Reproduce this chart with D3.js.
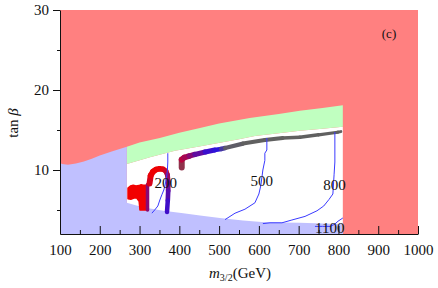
<!DOCTYPE html>
<html><head><meta charset="utf-8">
<script src="https://cdn.jsdelivr.net/npm/d3@7"></script>
<style>body{margin:0;background:#fff}svg{display:block}text{font-family:"Liberation Serif","DejaVu Serif",serif;fill:#111}</style>
</head><body><div id="c"></div>
<script>
// ---- data (m_{3/2} in GeV, tan beta) ----
const xMajorTicks = [100,200,300,400,500,600,700,800,900,1000];
const xMinorTicks = [150,250,350,450,550,650,750,850,950];
const yMajorTicks = [10,20,30];
const yMinorTicks = [5,15,25];

// allowed-region limits
const leftEdgeM = 268, rightEdgeM = 811;

// green band: upper and lower edge
const greenTopM = [268,300,351,400,452,500,577,650,703,760,811];
const greenTopT = [12.9,13.45,14.0,14.65,15.25,15.8,16.5,17.0,17.4,17.75,18.1];
const greenBotM = [268,326,389,450,502,550,590,650,703,760,811];
const greenBotT = [10.75,11.6,12.4,12.95,13.4,13.85,14.25,14.6,14.9,15.15,15.4];

// lavender (excluded) region: upper-left edge and lower strip edge
const lavTopM = [100,105,120,140,160,180,200,230,268];
const lavTopT = [10.9,10.75,10.65,10.8,11.05,11.4,11.8,12.3,12.9];
const lavLowM = [268,290,319,360,410,452,502,560,607,650,703,760,811];
const lavLowT = [5.9,5.6,5.25,4.9,4.6,4.3,4.0,3.7,3.5,3.45,3.4,3.3,3.25];

// coloured scatter strands (c: 0 red, 0.5 blue, 1 grey)
const blobM = [271,277,284,291,298,304,309,316,316,301,299,293,286,278,271];
const blobT = [7.75,8.0,8.1,8.0,8.05,8.15,8.1,8.1,5.0,5.0,6.1,6.5,6.5,6.35,6.4];
const stripM = [320,320];
const stripT = [5.0,8.2];
const stripC = [0.3,0.22];
const arcM = [325,328,334,341,350,359,366,370,372,372,371,369];
const arcT = [8.3,9.3,9.8,10.05,10.15,10.1,9.85,9.4,8.5,7.4,6.2,4.75];
const arcC = [0.1,0.02,0.0,0.0,0.0,0.02,0.06,0.15,0.28,0.36,0.42,0.47];
const bandM = [406,406,412,425,439,465,489,505,515,560,615,660,703,750,798,806];
const bandT = [10.3,11.3,11.55,11.75,11.95,12.25,12.5,12.62,12.75,13.3,13.75,14.0,14.1,14.4,14.72,14.8];
const bandC = [1.0,0.12,0.15,0.22,0.3,0.42,0.5,0.55,0.95,1,1,1,1,1,1,1];

// contour lines (blue)
const c200M = [371,371,370,368,364,361,356,351,346,338,331];
const c200T = [12.1,11.0,10.0,9.0,8.1,7.5,6.9,6.25,5.5,5.0,4.6];
const c500M = [620,620,615,615,610,605,600,590,565,540,515];
const c500T = [14.0,12.5,12.1,11.2,10.0,8.1,7.0,5.9,5.1,4.6,3.8];
const c800M = [791,791,789,786,776,763,746,716,683,658,628,610];
const c800T = [14.75,11.0,9.4,7.0,6.3,5.5,4.9,4.2,3.75,3.4,3.4,3.3];
const c1100M = [741,760,779,790,799,811];
const c1100T = [2.95,2.95,2.95,3.2,3.6,4.0];
const contourLabels = ["200","500","800","1100"];
const contourLabelM = [366,607,790,778];
const contourLabelT = [8.4,8.65,8.1,2.75];
const panelLabel = "(c)";

// ---- drawing ----
const W = 438, H = 288;
const svg = d3.select("#c").append("svg").attr("width",W).attr("height",H);
const x = d3.scaleLinear().domain([100,1000]).range([60,418]);
const y = d3.scaleLinear().domain([2,30]).range([234,10]);
const pts = (ms,ts)=>ms.map((m,i)=>[x(m),y(ts[i])]);
const line = d3.line();

// red background (excluded)
svg.append("rect").attr("x",x(100)).attr("y",y(30))
  .attr("width",x(1000)-x(100)).attr("height",y(2)-y(30)).attr("fill","#ff8080");

// white allowed region
const whitePoly = [[x(leftEdgeM),y(2)]].concat(pts(greenBotM,greenBotT)).concat([[x(rightEdgeM),y(2)]]);
svg.append("path").attr("d",line(whitePoly)+"Z").attr("fill","#fff");

// green band
const greenPoly = pts(greenTopM,greenTopT).concat(pts(greenBotM,greenBotT).reverse());
svg.append("path").attr("d",line(greenPoly)+"Z").attr("fill","#c0ffc0");

// lavender
const lavPoly = [[x(100),y(2)]].concat(pts(lavTopM,lavTopT)).concat(pts(lavLowM,lavLowT)).concat([[x(rightEdgeM),y(2)]]);
svg.append("path").attr("d",line(lavPoly)+"Z").attr("fill","#c0c0ff");

// colour scale for strands
const col = d3.scaleLinear().domain([0,0.5,1]).range(["#ee0000","#2a10e0","#606060"]).interpolate(d3.interpolateRgb);

// blob
svg.append("path").attr("d",line(pts(blobM,blobT))+"Z").attr("fill","#f20000")
  .attr("stroke","#f20000").attr("stroke-width",1.5).attr("stroke-linejoin","round");

function strand(ms,ts,cs,w0,w1){
  const p = pts(ms,ts);
  for(let i=0;i<p.length-1;i++){
    const w = w0+(w1-w0)*i/(p.length-2||1);
    svg.append("line").attr("x1",p[i][0]).attr("y1",p[i][1]).attr("x2",p[i+1][0]).attr("y2",p[i+1][1])
      .attr("stroke",d3.interpolateRgb(col(cs[i]),col(cs[i+1]))(0.5))
      .attr("stroke-width",w).attr("stroke-linecap","round");
  }
}
strand(stripM,stripT,stripC,3.5,3.5);
strand(arcM,arcT,arcC,6,4.5);
strand(bandM,bandT,bandC,6,3);

// contours
[[c200M,c200T],[c500M,c500T],[c800M,c800T],[c1100M,c1100T]].forEach(([ms,ts])=>{
  svg.append("path").attr("d",d3.line().curve(d3.curveLinear)(pts(ms,ts)))
    .attr("fill","none").attr("stroke","#3a3aff").attr("stroke-width",1);
});
contourLabels.forEach((t,i)=>{
  svg.append("text").attr("x",x(contourLabelM[i])).attr("y",y(contourLabelT[i]))
    .attr("text-anchor","middle").attr("dy","0.35em").attr("font-size",15).text(t);
});
svg.append("text").attr("x",389).attr("y",33).attr("text-anchor","middle").attr("dy","0.35em")
  .attr("font-size",13).text(panelLabel);

// axes
svg.append("g").attr("transform",`translate(0,${y(2)})`)
  .call(d3.axisBottom(x).tickValues(xMajorTicks).tickFormat(d3.format("d")).tickSizeInner(-8).tickSizeOuter(0).tickPadding(10));
svg.append("g").attr("transform",`translate(0,${y(2)})`)
  .call(d3.axisBottom(x).tickValues(xMinorTicks).tickFormat("").tickSizeInner(-4).tickSizeOuter(0))
  .select(".domain").remove();
svg.append("g").attr("transform",`translate(${x(100)},0)`)
  .call(d3.axisLeft(y).tickValues(yMajorTicks).tickSizeInner(7).tickSizeOuter(0).tickPadding(4));
svg.append("g").attr("transform",`translate(${x(100)},0)`)
  .call(d3.axisLeft(y).tickValues(yMinorTicks).tickFormat("").tickSizeInner(3).tickSizeOuter(0))
  .select(".domain").remove();
svg.selectAll(".tick text").attr("font-size",15).attr("font-family",'"Liberation Serif",serif').attr("fill","#111");
svg.selectAll(".domain, .tick line").attr("stroke","#111");

// axis titles
const xt = svg.append("text").attr("x",240).attr("y",278).attr("text-anchor","middle").attr("font-size",15);
xt.append("tspan").attr("font-style","italic").text("m");
xt.append("tspan").attr("font-size",10).attr("dy",3).text("3/2");
xt.append("tspan").attr("dy",-3).text("(GeV)");
const yt = svg.append("text").attr("transform","translate(18,123) rotate(-90)").attr("text-anchor","middle").attr("font-size",15);
yt.append("tspan").text("tan ");
yt.append("tspan").attr("font-style","italic").text("β");
</script></body></html>
